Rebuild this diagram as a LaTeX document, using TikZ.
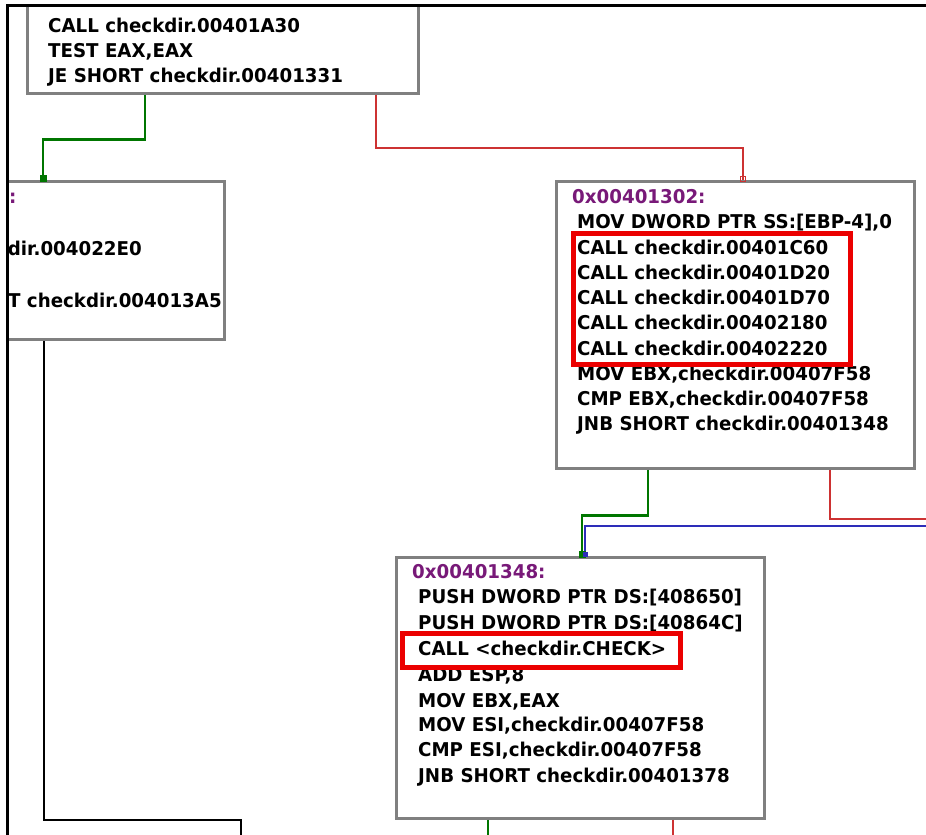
\documentclass[tikz,border=0pt]{standalone}
\usepackage{fontspec}
\setmainfont{DejaVu Sans}
\newfontfamily\asmfont{DejaVu Sans}[FakeStretch=0.96]
\usetikzlibrary{calc}
\definecolor{boxgray}{RGB}{128,128,128}
\definecolor{jgreen}{RGB}{0,118,0}
\definecolor{jred}{RGB}{205,50,50}
\definecolor{jblue}{RGB}{45,45,185}
\definecolor{hired}{RGB}{235,0,0}
\definecolor{addrc}{RGB}{120,25,120}
\begin{document}
\begin{tikzpicture}[x=1pt,y=-1pt,
  blockbox/.style={draw=boxgray,line width=2.8pt,fill=white,inner sep=0pt,anchor=north west},
  asm/.style={anchor=base west,inner sep=0pt,font=\asmfont\bfseries\fontsize{19}{19}\selectfont},
  addrtxt/.style={asm,text=addrc},
  hibox/.style={draw=hired,line width=5pt},
  gline/.style={draw=jgreen,line width=2.8pt},
  rline/.style={draw=jred,line width=1.4pt},
  bline/.style={draw=jblue,line width=1.6pt},
  kline/.style={draw=black,line width=2pt}]
\useasboundingbox (0,0) rectangle (926,835);
\fill[white] (0,0) rectangle (926,835);
\begin{scope}
\clip (7,5) rectangle (926,835);
% boxes
\node[blockbox,minimum width=391pt,minimum height=132pt] (top) at (26,-40) {};
\node[blockbox,minimum width=283pt,minimum height=158pt] (left) at (-60,180) {};
\node[blockbox,minimum width=358pt,minimum height=287pt] (right) at (555,180) {};
\node[blockbox,minimum width=368pt,minimum height=261pt] (bottom) at (395,556) {};
% top box text
\node[asm] (t1) at (48,32) {CALL checkdir.00401A30};
\node[asm] (t2) at (48,57) {TEST EAX,EAX};
\node[asm] (t3) at (48,82) {JE SHORT checkdir.00401331};
% left box text (clipped)
\node[addrtxt] (l0) at (9,203) {:};
\node[asm,anchor=base east] (l1) at (142,255) {dir.004022E0};
\node[asm] (l2) at (8,307) {T checkdir.004013A5};
% right box text
\node[addrtxt] (r0) at (572,203) {0x00401302:};
\node[asm] (r1) at (577,228) {MOV DWORD PTR SS:[EBP-4],0};
\node[asm] (r2) at (577,254) {CALL checkdir.00401C60};
\node[asm] (r3) at (577,279) {CALL checkdir.00401D20};
\node[asm] (r4) at (577,304) {CALL checkdir.00401D70};
\node[asm] (r5) at (577,329) {CALL checkdir.00402180};
\node[asm] (r6) at (577,355) {CALL checkdir.00402220};
\node[asm] (r7) at (577,380) {MOV EBX,checkdir.00407F58};
\node[asm] (r8) at (577,405) {CMP EBX,checkdir.00407F58};
\node[asm] (r9) at (577,430) {JNB SHORT checkdir.00401348};
\draw[hibox] (573,233) rectangle (850,364);
% bottom box text
\node[addrtxt] (b0) at (412,578) {0x00401348:};
\node[asm] (b1) at (418,603) {PUSH DWORD PTR DS:[408650]};
\node[asm] (b2) at (418,629) {PUSH DWORD PTR DS:[40864C]};
\node[asm] (b3) at (418,655) {CALL <checkdir.CHECK>};
\node[asm] (b4) at (418,681) {ADD ESP,8};
\node[asm] (b5) at (418,707) {MOV EBX,EAX};
\node[asm] (b6) at (418,731) {MOV ESI,checkdir.00407F58};
\node[asm] (b7) at (418,756) {CMP ESI,checkdir.00407F58};
\node[asm] (b8) at (418,782) {JNB SHORT checkdir.00401378};
\draw[hibox] (402,633) rectangle (680,667);
% connector ports
\coordinate (topG) at ($(top.south west)+(119,0)$);
\coordinate (topR) at ($(top.south west)+(350,0)$);
\coordinate (leftIn) at ($(left.north west)+(103,0)$);
\coordinate (leftOut) at ($(left.south west)+(104,0)$);
\coordinate (rightIn) at ($(right.north west)+(188,0)$);
\coordinate (rightG) at ($(right.south west)+(93,0)$);
\coordinate (rightR) at ($(right.south west)+(275,0)$);
\coordinate (botInG) at ($(bottom.north west)+(187,0)$);
\coordinate (botInB) at ($(bottom.north west)+(190,0)$);
\coordinate (botG) at ($(bottom.south west)+(93,0)$);
\coordinate (botR) at ($(bottom.south west)+(278,0)$);
\coordinate (blueFrom) at (930,526);
\coordinate (redTo) at (930,519);
\coordinate (blackTo) at (241,840);
\coordinate (botGTo) at (488,840);
\coordinate (botRTo) at (673,840);
% connectors
\draw[gline] (topG) -- ++(0,45) -| (leftIn);
\draw[rline] (topR) -- ++(0,53) -| (rightIn);
\draw[gline] (rightG) -- ++(0,46) -| (botInG);
\draw[bline] (blueFrom) -| (botInB);
\draw[rline] (rightR) |- (redTo);
\draw[kline] (leftOut) -- ++(0,479) -| (blackTo);
\draw[gline] (botG) -- (botGTo);
\draw[rline] (botR) -- (botRTo);
% end markers
\fill[jgreen] ($(leftIn)+(-3.5,-5)$) rectangle ($(leftIn)+(3.5,2)$);
\draw[jred,line width=1pt] ($(rightIn)+(-2.5,-3.5)$) rectangle ($(rightIn)+(2.5,1)$);
\fill[jgreen] ($(botInG)+(-3,-5)$) rectangle ($(botInB)+(1,2)$);
\fill[jblue] ($(botInB)+(-2,-4)$) rectangle ($(botInB)+(3,1)$);
\end{scope}
% frame
\draw[black,line width=3pt] (7,835) -- (7,5) -- (926,5);
\end{tikzpicture}
\end{document}
